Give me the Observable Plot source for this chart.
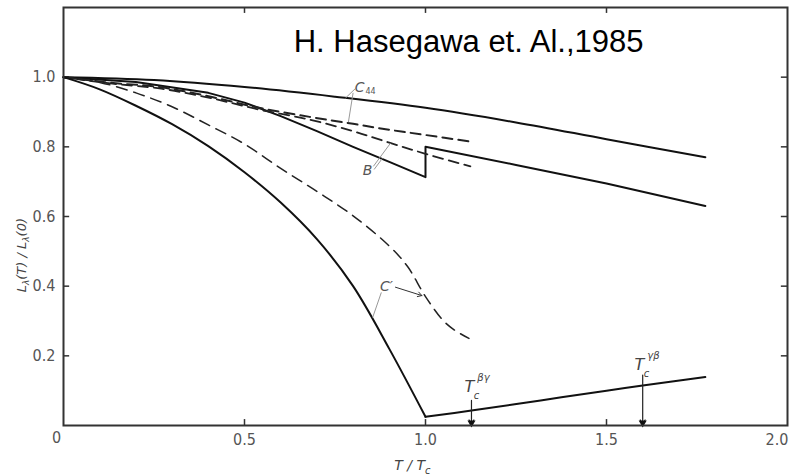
<!DOCTYPE html>
<html><head><meta charset="utf-8">
<script src="https://cdn.jsdelivr.net/npm/d3@7"></script>
<script src="https://cdn.jsdelivr.net/npm/@observablehq/plot@0.6"></script>
<style>body{margin:0;background:#fff}</style>
</head><body><div id="chart"></div>
<script>
// ---- tick values / labels ----
const xTicks = [0, 0.5, 1, 1.5, 2];
const xTickLabels = ["0", "0.5", "1.0", "1.5", "2.0"];
const xInnerTicks = [0.5, 1, 1.5];
const yTicks = [0.2, 0.4, 0.6, 0.8, 1.0];
const yTickLabels = ["0.2", "0.4", "0.6", "0.8", "1.0"];

// ---- series (T/Tc, L(T)/L(0)) ----
const c44T = [0, 0.25, 0.5, 0.75, 1.0, 1.25, 1.5, 1.773];
const c44Y = [1.0, 0.992, 0.972, 0.944, 0.912, 0.870, 0.822, 0.770];

const bT = [0, 0.2, 0.4, 0.5, 0.6, 0.7, 0.8, 0.9, 1.0, 1.0, 1.25, 1.5, 1.773];
const bY = [1.0, 0.986, 0.955, 0.927, 0.888, 0.845, 0.800, 0.757, 0.713, 0.800, 0.748, 0.695, 0.630];

const upperDashT = [0, 0.13, 0.27, 0.41, 0.54, 0.68, 0.8, 0.9, 1.0, 1.124];
const upperDashY = [1.0, 0.984, 0.971, 0.943, 0.912, 0.886, 0.866, 0.849, 0.834, 0.815];

const lowerDashT = [0, 0.13, 0.27, 0.41, 0.54, 0.68, 0.8, 0.9, 1.0, 1.124];
const lowerDashY = [1.0, 0.982, 0.967, 0.939, 0.907, 0.878, 0.845, 0.812, 0.780, 0.744];

const cDashT = [0, 0.1, 0.2, 0.3, 0.4, 0.5, 0.6, 0.7, 0.8, 0.9, 0.95, 1.0, 1.05, 1.08, 1.12];
const cDashY = [1.0, 0.985, 0.955, 0.915, 0.863, 0.808, 0.738, 0.672, 0.602, 0.515, 0.457, 0.370, 0.300, 0.274, 0.250];

const cSolidT = [0, 0.1, 0.2, 0.3, 0.4, 0.5, 0.6, 0.7, 0.8, 0.9, 1.0];
const cSolidY = [1.0, 0.965, 0.918, 0.865, 0.802, 0.727, 0.640, 0.535, 0.400, 0.220, 0.025];

const riseT = [1.0, 1.127, 1.318, 1.5, 1.6, 1.773];
const riseY = [0.025, 0.043, 0.072, 0.100, 0.115, 0.139];

// ---- transition arrows ----
const tcX = [1.127, 1.60];
const tcTop = [0.072, 0.145];
const tcLabelX = [1.1215, 1.591];
const tcLabelY = [0.112, 0.175];
const tcSup = ["βγ", "γβ"];

// ---- curve labels & leaders ----
const curveLabels = ["C", "B", "C′"];
const curveLabelX = [0.818, 0.840, 0.892];
const curveLabelY = [0.971, 0.733, 0.400];
const leaderX1 = [0.806, 0.800, 0.856, 0.858, 0.878];
const leaderY1 = [0.967, 0.955, 0.744, 0.735, 0.382];
const leaderX2 = [0.779, 0.787, 0.903, 0.881, 0.854];
const leaderY2 = [0.940, 0.871, 0.810, 0.767, 0.310];
const cArrow = {x1: 0.917, y1: 0.397, x2: 0.990, y2: 0.373};

const titleText = "H. Hasegawa et. Al.,1985";

const pts = (T, Y) => T.map((t, i) => ({x: t, y: Y[i]}));
const numFont = "'Liberation Sans Narrow','DejaVu Sans Condensed','Liberation Sans',sans-serif";
const leaders = leaderX1.map((x, i) => ({x1: x, y1: leaderY1[i], x2: leaderX2[i], y2: leaderY2[i]}));
const tcData = tcX.map((x, i) => ({x, top: tcTop[i], lx: tcLabelX[i], ly: tcLabelY[i], sup: tcSup[i]}));
const cl = curveLabels.map((t, i) => ({t, x: curveLabelX[i], y: curveLabelY[i]}));
const lastX = xTicks.length - 1;

const plot = Plot.plot({
  width: 789, height: 475,
  marginLeft: 63, marginRight: 2, marginTop: 7, marginBottom: 50,
  x: {domain: [0, 2], axis: null},
  y: {domain: [0, 1.2], axis: null},
  style: {background: "#fff", fontFamily: numFont},
  marks: [
    // tick labels
    Plot.text(xTicks.slice(1, lastX), {x: d => d, y: 0, dy: 14, text: (d, i) => xTickLabels[i + 1], fontSize: 16, fill: "#555"}),
    Plot.text([xTicks[lastX]], {x: d => d, y: 0, dy: 14, dx: 1, textAnchor: "end", text: () => xTickLabels[lastX], fontSize: 16, fill: "#555"}),
    Plot.text([xTicks[0]], {x: d => d, y: 0, dy: 12, dx: -7, text: () => xTickLabels[0], fontSize: 16, fill: "#555"}),
    Plot.text(yTicks, {x: 0, y: d => d, dx: -8, textAnchor: "end", text: (d, i) => yTickLabels[i], fontSize: 16, fill: "#555"}),
    // inward ticks
    Plot.ruleX(xInnerTicks, {x: d => d, y1: 0, y2: 0.017, stroke: "#333", strokeWidth: 1.5}),
    Plot.ruleX(xInnerTicks, {x: d => d, y1: 1.2, y2: 1.183, stroke: "#333", strokeWidth: 1.5}),
    Plot.ruleY(yTicks, {y: d => d, x1: 0, x2: 0.017, stroke: "#333", strokeWidth: 1.5}),
    Plot.ruleY(yTicks, {y: d => d, x1: 2, x2: 1.983, stroke: "#333", strokeWidth: 1.5}),
    // curves
    Plot.line(pts(c44T, c44Y), {x: "x", y: "y", stroke: "#111", strokeWidth: 2, curve: "catmull-rom"}),
    Plot.line(pts(bT, bY), {x: "x", y: "y", stroke: "#111", strokeWidth: 2}),
    Plot.line(pts(upperDashT, upperDashY), {x: "x", y: "y", stroke: "#222", strokeWidth: 2, strokeDasharray: "10,6", curve: "catmull-rom"}),
    Plot.line(pts(lowerDashT, lowerDashY), {x: "x", y: "y", stroke: "#222", strokeWidth: 1.8, strokeDasharray: "10,6", strokeDashoffset: 5, curve: "catmull-rom"}),
    Plot.line(pts(cDashT, cDashY), {x: "x", y: "y", stroke: "#222", strokeWidth: 1.5, strokeDasharray: "11,7", curve: "catmull-rom"}),
    Plot.line(pts(cSolidT, cSolidY), {x: "x", y: "y", stroke: "#111", strokeWidth: 2, curve: "catmull-rom"}),
    Plot.line(pts(riseT, riseY), {x: "x", y: "y", stroke: "#111", strokeWidth: 2, curve: "catmull-rom"}),
    // leaders
    Plot.link(leaders, {x1: "x1", y1: "y1", x2: "x2", y2: "y2", stroke: "#999", strokeWidth: 1}),
    Plot.arrow([cArrow], {x1: "x1", y1: "y1", x2: "x2", y2: "y2", stroke: "#333", strokeWidth: 1, headLength: 7}),
    // Tc arrows
    Plot.arrow(tcData, {x1: "x", y1: "top", x2: "x", y2: 0.004, stroke: "#222", strokeWidth: 1.2, headLength: 6}),
    Plot.dot(tcData, {x: "x", y: 0.008, symbol: "triangle", rotate: 180, r: 3, fill: "#111"}),
    Plot.text(tcData, {x: "lx", y: "ly", text: () => "T", fontStyle: "italic", fontSize: 16, fill: "#444", fontFamily: "'DejaVu Sans',sans-serif"}),
    Plot.text(tcData, {x: "lx", y: "ly", dx: 7, dy: 9, text: () => "c", fontStyle: "italic", fontSize: 10, fill: "#444", fontFamily: "'DejaVu Sans',sans-serif"}),
    Plot.text(tcData, {x: "lx", y: "ly", dx: 14, dy: -9, text: "sup", fontStyle: "italic", fontSize: 10, fill: "#444", fontFamily: "'DejaVu Sans',sans-serif"}),
    // curve labels
    Plot.text(cl, {x: "x", y: "y", text: "t", fontStyle: "italic", fontSize: 14, fill: "#555", fontFamily: "'DejaVu Sans',sans-serif"}),
    Plot.text([0], {x: curveLabelX[0], y: curveLabelY[0], dx: 11, dy: 4, text: () => "44", fontSize: 8, fill: "#555", fontFamily: "'DejaVu Sans',sans-serif"}),
    // axis labels
    Plot.text(["YLABEL"], {x: 0, y: 0.489, dx: -42, rotate: -90, text: d => d, fontSize: 13, fill: "#444", fontStyle: "italic", fontFamily: "'DejaVu Sans',sans-serif"}),
    Plot.text(["XLABEL"], {x: 0.964, y: 0, dy: 40, text: d => d, fontSize: 14, fill: "#444", fontStyle: "italic", fontFamily: "'DejaVu Sans',sans-serif"}),
    // title
    Plot.text([titleText], {x: 1.119, y: 1.10, text: d => d, fontSize: 31, fill: "#000", fontFamily: "'Liberation Sans',Arial,sans-serif"}),
    Plot.frame({stroke: "#333", strokeWidth: 2})
  ]
});

function richify(svg, key, parts) {
  d3.select(svg).selectAll("text").filter(function () { return this.textContent === key; })
    .each(function () {
      const t = d3.select(this);
      t.text(null);
      parts.forEach(p => {
        const s = t.append("tspan").text(p.t);
        if (p.dy) s.attr("dy", p.dy);
        if (p.size) s.attr("font-size", p.size);
      });
    });
}
richify(plot, "YLABEL", [
  {t: "L"}, {t: "λ", dy: 3, size: 9}, {t: "(T) / L", dy: -3}, {t: "λ", dy: 3, size: 9}, {t: "(0)", dy: -3}
]);
richify(plot, "XLABEL", [{t: "T / T"}, {t: "c", dy: 4, size: 10}]);
document.getElementById("chart").appendChild(plot);
</script></body></html>
